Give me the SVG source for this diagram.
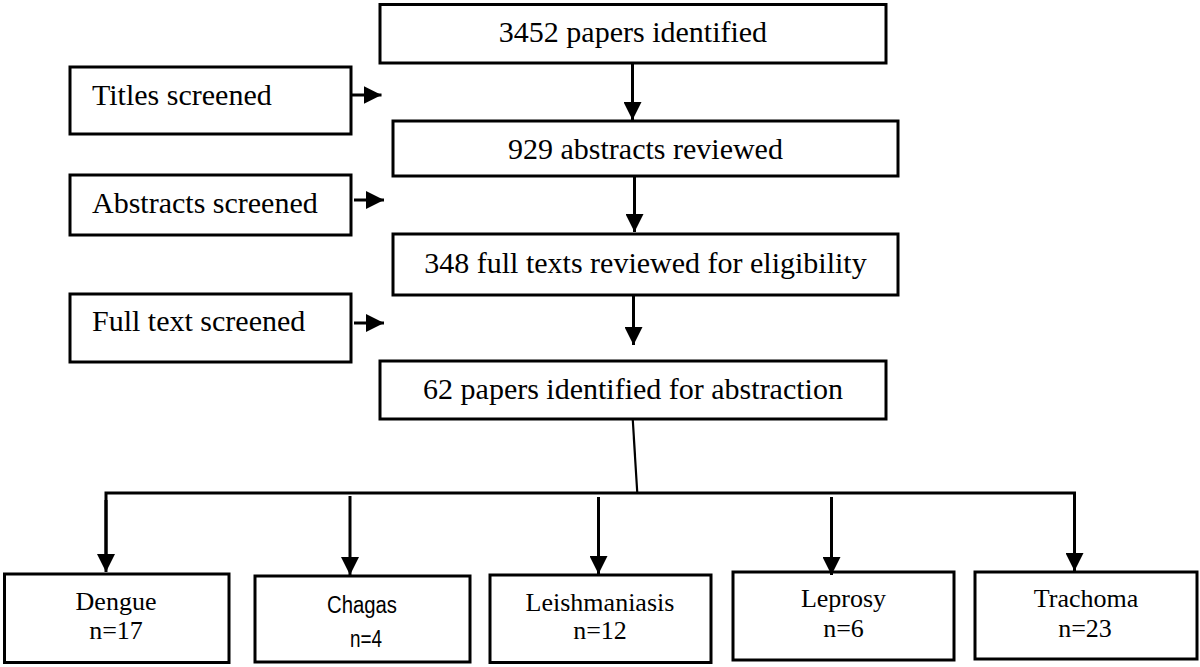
<svg xmlns="http://www.w3.org/2000/svg" width="1200" height="667" viewBox="0 0 1200 667">
<style>
.box{fill:#fff;stroke:#000;stroke-width:3}
.t{font-family:"Liberation Serif","Times New Roman",serif;font-size:30px;fill:#000}
.c{text-anchor:middle}
.s{font-family:"Liberation Serif","Times New Roman",serif;font-size:26px;fill:#000;text-anchor:middle}
.ss{font-family:"Liberation Sans",Arial,sans-serif;font-size:23px;fill:#000;text-anchor:middle}
.ln{stroke:#000;stroke-width:3;fill:none}
.arr{marker-end:url(#ah)}
</style>
<defs>
<marker id="ah" markerUnits="userSpaceOnUse" markerWidth="18" markerHeight="18" refX="18" refY="9" orient="auto">
<path d="M0,0 L18,9 L0,18 Z" fill="#000"/>
</marker>
</defs>
<rect width="1200" height="667" fill="#fff"/>
<g id="n1"><rect class="box" x="380" y="4.5" width="506" height="58.5"/><text class="t c" x="633" y="42">3452 papers identified</text></g>
<g id="titles"><rect class="box" x="70" y="67" width="281" height="67"/><text class="t" x="92" y="105">Titles screened</text></g>
<g id="n2"><rect class="box" x="393" y="121" width="505" height="55"/><text class="t c" x="645.5" y="159">929 abstracts reviewed</text></g>
<g id="abstracts"><rect class="box" x="70" y="175" width="281" height="60"/><text class="t" x="92" y="213">Abstracts screened</text></g>
<g id="n3"><rect class="box" x="393" y="234" width="505" height="61"/><text class="t c" x="645.5" y="273">348 full texts reviewed for eligibility</text></g>
<g id="fulltext"><rect class="box" x="70" y="294" width="281" height="68"/><text class="t" x="92" y="331">Full text screened</text></g>
<g id="n4"><rect class="box" x="380" y="361" width="506" height="58"/><text class="t c" x="633" y="399">62 papers identified for abstraction</text></g>
<g id="dengue"><rect class="box" x="4.5" y="574" width="224.5" height="88.5"/><text class="s" x="116" y="610">Dengue</text><text class="s" x="116" y="639">n=17</text></g>
<g id="chagas"><rect class="box" x="255" y="576" width="215" height="86"/><text class="ss" x="362" y="613" textLength="70" lengthAdjust="spacingAndGlyphs">Chagas</text><text class="ss" x="366" y="647" textLength="32" lengthAdjust="spacingAndGlyphs">n=4</text></g>
<g id="leish"><rect class="box" x="490" y="575" width="221" height="87.5"/><text class="s" x="600" y="611">Leishmaniasis</text><text class="s" x="600" y="639">n=12</text></g>
<g id="leprosy"><rect class="box" x="733" y="572" width="221" height="88"/><text class="s" x="843.5" y="607">Leprosy</text><text class="s" x="843.5" y="637">n=6</text></g>
<g id="trachoma"><rect class="box" x="975" y="572" width="222" height="87"/><text class="s" x="1086" y="607">Trachoma</text><text class="s" x="1085" y="637">n=23</text></g>
<g id="connectors">
<line class="ln arr" x1="632.5" y1="63" x2="632.5" y2="120"/>
<line class="ln arr" x1="634.5" y1="176" x2="634.5" y2="232"/>
<line class="ln arr" x1="633.5" y1="295" x2="633.5" y2="345"/>
<line class="ln arr" x1="351" y1="95" x2="381.5" y2="95"/>
<line class="ln arr" x1="354" y1="200" x2="384" y2="200"/>
<line class="ln arr" x1="354" y1="323" x2="384" y2="323"/>
<line stroke="#000" stroke-width="2.2" x1="632.7" y1="419" x2="637.3" y2="493"/>
<polyline class="ln" points="106,560 106,493 1074.5,493 1074.5,560"/>
<line class="ln arr" x1="106" y1="500" x2="106" y2="572"/>
<line class="ln arr" x1="350" y1="496" x2="350" y2="575"/>
<line class="ln arr" x1="598.5" y1="497" x2="598.5" y2="574"/>
<line class="ln arr" x1="831.5" y1="497" x2="831.5" y2="575"/>
<line class="ln arr" x1="1074.5" y1="500" x2="1074.5" y2="571"/>
</g>
</svg>
